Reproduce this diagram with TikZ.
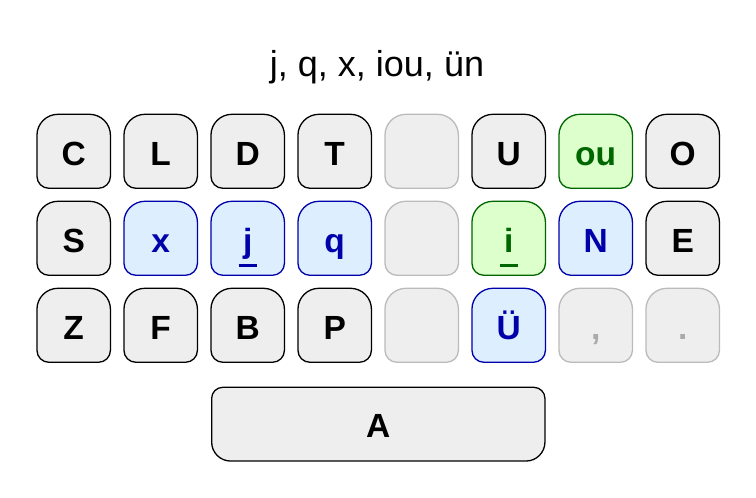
\documentclass[tikz,border=0pt]{standalone}
\usepackage{fontspec}
\setmainfont{Liberation Sans}
\usepackage{tikz}
\pgfdeclarelayer{bg}
\pgfsetlayers{bg,main}

\definecolor{capgray}{HTML}{EEEEEE}
\definecolor{blankline}{HTML}{BBBBBB}
\definecolor{blankink}{HTML}{AAAAAA}
\definecolor{bluefill}{HTML}{DDEEFF}
\definecolor{blueink}{HTML}{0000AA}
\definecolor{greenfill}{HTML}{DDFFCC}
\definecolor{greenink}{HTML}{006600}

\tikzset{
  keylbl/.style={minimum width=73.5pt,minimum height=74pt,inner sep=0pt,outer sep=0pt,
    text height=27.6pt,text depth=0pt,font=\bfseries\fontsize{33.5}{33.5}\selectfont},
  plain cap/.style={fill=capgray,draw=black,line width=1.3pt},
  plain lbl/.style={text=black},
  blank cap/.style={fill=capgray,draw=blankline,line width=1.3pt},
  blank lbl/.style={text=blankink},
  blue cap/.style={fill=bluefill,draw=blueink,line width=1.3pt},
  blue lbl/.style={text=blueink},
  green cap/.style={fill=greenfill,draw=greenink,line width=1.3pt},
  green lbl/.style={text=greenink},
  bar/.style={line width=3pt}
}

% #1 node, #2 style, #3 top radius, #4 bottom radius
\newcommand\keycap[4]{%
  \draw[#2] ([xshift=#4]#1.south west) -- ([xshift=-#4]#1.south east)
    arc[start angle=-90,end angle=0,radius=#4] -- ([yshift=-#3]#1.north east)
    arc[start angle=0,end angle=90,radius=#3] -- ([xshift=#3]#1.north west)
    arc[start angle=90,end angle=180,radius=#3] -- ([yshift=#4]#1.south west)
    arc[start angle=180,end angle=270,radius=#4] -- cycle;}

\begin{document}
\begin{tikzpicture}[x=1pt,y=1pt]
  \useasboundingbox (0,0) rectangle (756,498);
  \node (title) at (377,421.3) [anchor=base,font=\fontsize{36}{36}\selectfont]{j, q, x, iou, ün};
  % key grid: name/column/row/label/colour
  \foreach \name/\col/\row/\txt/\sty in {
      kc/0/0/C/plain, kl/1/0/L/plain, kd/2/0/D/plain, kt/3/0/T/plain,
      ka/4/0/{}/blank, ku/5/0/U/plain, kou/6/0/ou/green, ko/7/0/O/plain,
      ks/0/1/S/plain, kx/1/1/x/blue, kj/2/1/j/blue, kq/3/1/q/blue,
      kb/4/1/{}/blank, ki/5/1/i/green, kn/6/1/N/blue, ke/7/1/E/plain,
      kz/0/2/Z/plain, kf/1/2/F/plain, kbb/2/2/B/plain, kp/3/2/P/plain,
      kc2/4/2/{}/blank, kv/5/2/Ü/blue, kcomma/6/2/{,}/blank, kdot/7/2/./blank}{
    \node (\name) at (73.7+87*\col,346.7-87*\row) [keylbl,\sty\space lbl]{\txt};
    \begin{pgfonlayer}{bg}
      \keycap{\name}{\sty\space cap}{21}{12}
    \end{pgfonlayer}
  }
  \node (space) at (378.3,73.8) [keylbl,plain lbl,minimum width=333.3pt,minimum height=73.7pt]{A};
  \begin{pgfonlayer}{bg}
    \keycap{space}{plain cap}{11}{19}
  \end{pgfonlayer}
  \draw[bar,blueink] ([xshift=-9pt,yshift=-27pt]kj.center) -- ([xshift=9pt,yshift=-27pt]kj.center);
  \draw[bar,greenink] ([xshift=-9pt,yshift=-27pt]ki.center) -- ([xshift=9pt,yshift=-27pt]ki.center);
\end{tikzpicture}
\end{document}
